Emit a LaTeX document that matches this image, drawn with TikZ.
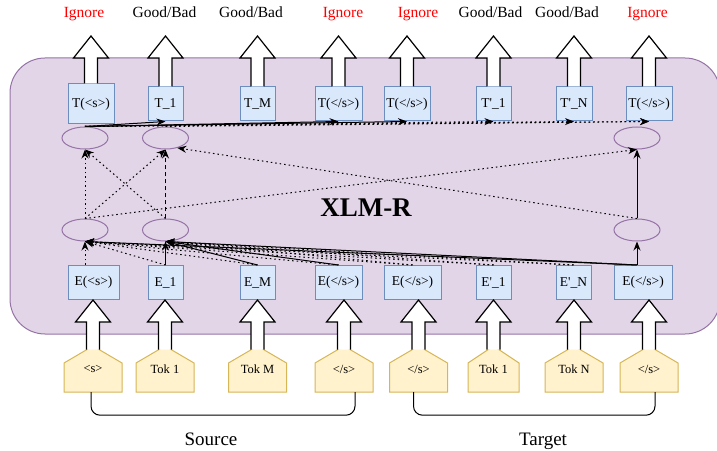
\documentclass[tikz,border=0pt]{standalone}
\usepackage{fontspec}
\setmainfont{Liberation Serif}
\usetikzlibrary{arrows.meta,calc,shapes.geometric}
\definecolor{xlmfill}{HTML}{E1D5E7}
\definecolor{xlmline}{HTML}{9673A6}
\definecolor{boxfill}{HTML}{DAE8FC}
\definecolor{boxline}{HTML}{6C8EBF}
\definecolor{tokfill}{HTML}{FFF2CC}
\definecolor{tokline}{HTML}{D6B656}
\newcommand{\fatarrow}[2]{%
  \draw[fat] let \p1=(#1), \p2=(#2) in (\x1-6.5pt,\y1) -- (\x1-6.5pt,\y2-22pt) -- (\x1-17.5pt,\y2-22pt)
    -- (\x1,\y2) -- (\x1+17.5pt,\y2-22pt) -- (\x1+6.5pt,\y2-22pt) -- (\x1+6.5pt,\y1);}

\begin{document}
\begin{tikzpicture}[x=1pt,y=1pt,
    vbox/.style={draw=boxline,fill=boxfill,line width=1pt,inner sep=0pt,minimum height=34,font=\fontsize{13.5}{15}\selectfont},
    hid/.style={ellipse,draw=xlmline,line width=1pt,minimum width=46,minimum height=22,inner sep=0pt},
    house/.style={draw=tokline,fill=tokfill,line width=1pt},
    tok/.style={minimum height=46,inner sep=0pt,font=\fontsize{12.5}{14}\selectfont},
    lbl/.style={anchor=base,font=\fontsize{15.5}{18}\selectfont},
    fat/.style={draw=black,fill=white,line width=1.2pt},
    sol/.style={line width=1pt,-{Stealth[length=9pt,width=7pt]}},
    dot/.style={sol,dash pattern=on 1.5pt off 3pt},
    dsh/.style={sol,dash pattern=on 4pt off 3pt}]
\useasboundingbox (0,0) rectangle (717,450);
\draw[draw=xlmline,fill=xlmfill,line width=1pt,rounded corners=35] (10,116) rectangle (720,392);
\node[font=\fontsize{27}{30}\selectfont\bfseries] (xlm) at (366,242) {XLM-R};

% output side
\node[vbox,minimum width=46,minimum height=40] (t0) at (91,346) {T(<s>)};
\node[vbox,minimum width=35] (t1) at (165.5,346) {T\_1};
\node[vbox,minimum width=35] (t2) at (257.5,346) {T\_M};
\node[vbox,minimum width=47] (t3) at (338.5,346) {T(</s>)};
\node[vbox,minimum width=46] (t4) at (407,346) {T(</s>)};
\node[vbox,minimum width=35] (t5) at (493.5,346) {T\textquotesingle\_1};
\node[vbox,minimum width=36] (t6) at (574,346) {T\textquotesingle\_N};
\node[vbox,minimum width=46] (t7) at (649,346) {T(</s>)};

\node[lbl,red] (o0) at (84,432) {Ignore};
\node[lbl] (o1) at (164.5,432) {Good/Bad};
\node[lbl] (o2) at (251,432) {Good/Bad};
\node[lbl,red] (o3) at (343,432) {Ignore};
\node[lbl,red] (o4) at (418,432) {Ignore};
\node[lbl] (o5) at (490.5,432) {Good/Bad};
\node[lbl] (o6) at (567,432) {Good/Bad};
\node[lbl,red] (o7) at (647.5,432) {Ignore};

% hidden states
\node[hid] (u0) at (85,312) {};
\node[hid] (u1) at (165.5,312) {};
\node[hid] (u7) at (637,312) {};
\node[hid] (l0) at (85,220) {};
\node[hid] (l1) at (165.5,220) {};
\node[hid] (l7) at (637,220) {};

% input side
\node[vbox,minimum width=51] (e0) at (93.5,167.5) {E(<s>)};
\node[vbox,minimum width=35] (e1) at (165.5,167.5) {E\_1};
\node[vbox,minimum width=35] (e2) at (257.5,167.5) {E\_M};
\node[vbox,minimum width=47] (e3) at (338.5,167.5) {E(</s>)};
\node[vbox,minimum width=57] (e4) at (412.5,167.5) {E(</s>)};
\node[vbox,minimum width=35] (e5) at (493.5,167.5) {E\textquotesingle\_1};
\node[vbox,minimum width=35] (e6) at (573.5,167.5) {E\textquotesingle\_N};
\node[vbox,minimum width=58] (e7) at (643,167.5) {E(</s>)};

\foreach \n/\x/\w/\t in {0/93/29/{<s>},1/165/29/{Tok 1},2/257.5/29/{Tok M},3/344/29/{</s>},
    4/418.5/29/{</s>},5/493.5/25.5/{Tok 1},6/574/29/{Tok N},7/649/29/{</s>}} {
  \draw[house] (\x-\w,58) -- (\x-\w,87) -- (\x,104) -- (\x+\w,87) -- (\x+\w,58) -- cycle;
  \node[tok,minimum width=2*\w] (s\n) at (\x,81) {\t};
}

\node[font=\fontsize{19}{22}\selectfont,anchor=base] (src) at (211,5) {Source};
\node[font=\fontsize{19}{22}\selectfont,anchor=base] (tgt) at (543,5) {Target};
\draw[line width=1pt,rounded corners=9] ([xshift=-2pt]s0.south) -- ++(0,-23) -| ([xshift=11pt]s3.south);
\draw[line width=1pt,rounded corners=9] ([xshift=-5pt]s4.south) -- ++(0,-23) -| ([xshift=6pt]s7.south);

% block arrows
\foreach \i in {0,...,7} {
  \fatarrow{[yshift=-3.8pt]s\i.north}{s\i.north |- e\i.south}
  \fatarrow{t\i.north}{t\i.north |- 0,414}
}

% embeddings to first layer
\draw[dot] (l0.south |- e0.north) -- (l0.south);
\draw[sol] (e1.north) -- (l1.south);
\foreach \i in {1,...,6} \draw[dot] (e\i.north) -- (l0.south);
\foreach \i in {4,5,6} \draw[dot] (e\i.north) -- (l1.south);
\foreach \i in {2,3} \draw[sol] (e\i.north) -- (l1.south);
\draw[sol] (l7.south |- e7.north) -- (l1.south);
\draw[sol] (l7.south |- e7.north) -- (l0.south);
\draw[sol] (l7.south |- e7.north) -- (l7.south);

% first layer to second layer
\draw[dot] (l0.north) -- (u0.south);
\draw[dot] (l0.north) -- (u1.south);
\draw[dot] (l1.north) -- (u0.south);
\draw[dsh] (l1.north) -- (u1.south);
\draw[dot] (l0.north) -- (u7.south);
\draw[dot] (l7.north) -- (u1.-40);
\draw[sol] (l7.north) -- (u7.south);

% second layer to outputs
\foreach \j in {1,3,4} \draw[sol] (u0.north) -- (t\j.south);
\foreach \j in {5,6,7} \draw[dot] (u0.north) -- (t\j.south);
\draw[dot] (u1.north) -- (t7.south);
\end{tikzpicture}
\end{document}
